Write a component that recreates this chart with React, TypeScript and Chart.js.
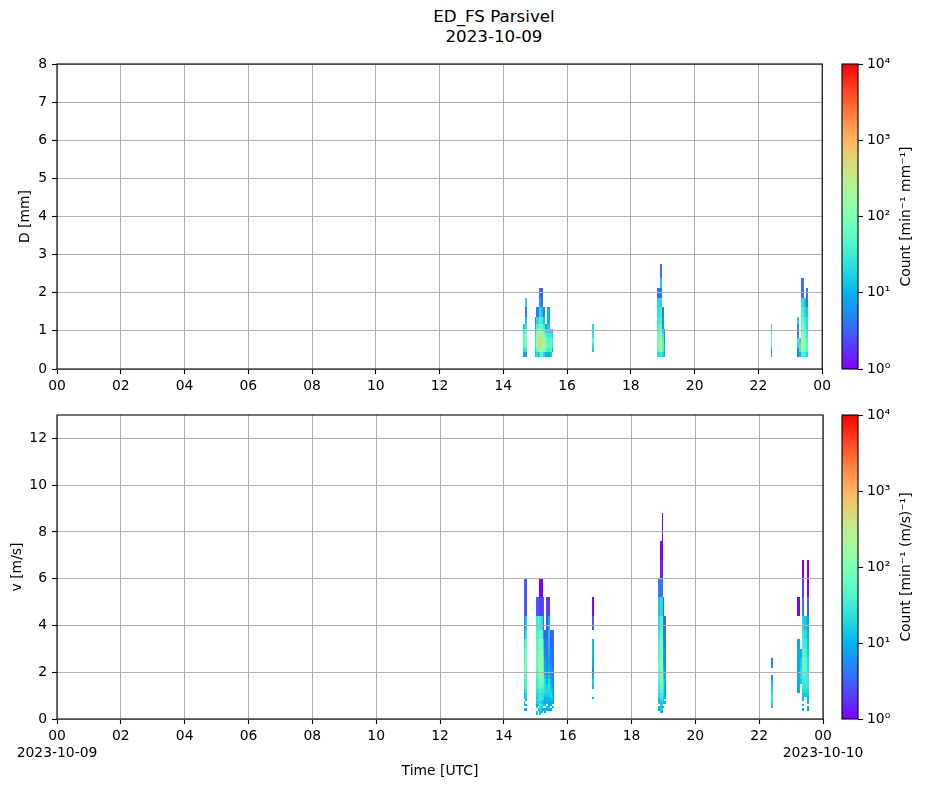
import React, { useEffect, useRef } from "react";
import { Chart, registerables } from "chart.js";

Chart.register(...registerables);

// ---------------- data ----------------
const TITLE_LINES = ["ED_FS Parsivel", "2023-10-09"];
const X_TICKS = [0, 2, 4, 6, 8, 10, 12, 14, 16, 18, 20, 22, 24];
const X_DATES = ["2023-10-09", "2023-10-10"];
const D_TICKS = [0, 1, 2, 3, 4, 5, 6, 7, 8];
const V_TICKS = [0, 2, 4, 6, 8, 10, 12];
const D_RANGE = [0, 8];
const V_RANGE = [0, 13];
const COUNT_TICKS = [1, 10, 100, 1000, 10000];
const COUNT_LABELS = ["10⁰", "10¹", "10²", "10³", "10⁴"];
const D_LABEL = "D [mm]";
const V_LABEL = "v [m/s]";
const TIME_LABEL = "Time [UTC]";
const D_CB_LABEL = "Count [min⁻¹ mm⁻¹]";
const V_CB_LABEL = "Count [min⁻¹ (m/s)⁻¹]";

// Parsivel class centres, used as cell edges
const D_EDGES = [0.062, 0.187, 0.312, 0.437, 0.562, 0.687, 0.812, 0.937, 1.062, 1.187,
  1.375, 1.625, 1.875, 2.125, 2.375, 2.75, 3.25, 3.75, 4.25, 4.75, 5.5, 6.5, 7.5];
const V_EDGES = [0.05, 0.15, 0.25, 0.35, 0.45, 0.55, 0.65, 0.75, 0.85, 0.95, 1.1, 1.3,
  1.5, 1.7, 1.9, 2.2, 2.6, 3.0, 3.4, 3.8, 4.4, 5.2, 6.0, 6.8, 7.6, 8.8, 10.4];

// [start minute, end minute, first class index, counts per class upward]
const D_COLUMNS: [number, number, number, number[]][] = [
  [877, 880, 2, [8, 20, 40, 60, 50, 30, 15]],
  [880, 884, 2, [8, 30, 70, 100, 90, 60, 30, 15, 4, 20]],
  [900, 902, 2, [15, 20, 30, 25, 20, 15, 10, 5]],
  [902, 906, 2, [20, 60, 120, 150, 120, 80, 40, 20, 4]],
  [906, 908, 2, [10, 50, 200, 300, 200, 100, 50, 20, 5]],
  [908, 911, 2, [30, 200, 500, 600, 400, 200, 80, 40, 20, 8, 4]],
  [911, 915, 2, [50, 150, 300, 400, 300, 150, 60, 30, 15, 4, 3]],
  [915, 919, 2, [20, 100, 200, 150, 100, 60, 30, 15, 4]],
  [919, 923, 2, [10, 60, 100, 80, 50, 25, 10]],
  [923, 927, 2, [8, 30, 50, 40, 30, 20, 15, 10, 10]],
  [927, 931, 2, [15, 40, 60, 50, 30, 20]],
  [931, 934, 3, [10, 30, 40, 20, 10]],
  [1006, 1010, 3, [15, 25, 60, 25, 20, 20]],
  [1130, 1134, 2, [20, 60, 100, 100, 80, 60, 40, 30, 25, 20, 4]],
  [1134, 1139, 2, [30, 200, 400, 300, 200, 100, 60, 40, 30, 20, 4, 15, 4]],
  [1139, 1142, 2, [15, 40, 50, 40, 30, 15, 6, 5, 4]],
  [1142, 1145, 2, [10, 12, 10, 8, 6, 5]],
  [1343, 1346, 2, [6, 10, 40, 60, 40, 30, 20]],
  [1392, 1397, 2, [5, 4, 20, 30, 5, 4, 5, 20]],
  [1397, 1401, 2, [10, 30, 40, 20]],
  [1401, 1405, 2, [40, 150, 300, 250, 150, 100, 80, 60, 40, 25, 4, 4]],
  [1405, 1409, 2, [30, 80, 120, 100, 80, 60, 40, 30, 20, 15]],
  [1409, 1413, 2, [20, 40, 50, 40, 30, 25, 20, 20, 15, 4, 4]],
];

const V_COLUMNS: [number, number, number, number[]][] = [
  [877, 880, 3, [10, 0, 8, 12, 0, 15, 10, 20, 25, 30, 40, 50, 40, 30, 20, 8, 4, 3, 3]],
  [880, 884, 2, [0, 10, 0, 12, 0, 10, 15, 20, 30, 40, 50, 70, 80, 100, 80, 50, 25, 15, 3, 3]],
  [900, 904, 1, [10, 15, 0, 12, 10, 15, 20, 15, 20, 25, 30, 30, 40, 50, 60, 60, 50, 40, 30, 3]],
  [904, 906, 2, [0, 10, 0, 15, 20, 25, 20, 20, 30, 40, 50, 60, 80, 90, 80, 60, 50, 40, 3]],
  [906, 910, 1, [15, 10, 20, 25, 30, 20, 30, 40, 30, 40, 60, 80, 100, 150, 180, 150, 100, 60, 30, 2, 1]],
  [910, 914, 1, [0, 15, 10, 20, 25, 15, 20, 30, 25, 30, 50, 70, 90, 120, 150, 120, 80, 50, 20, 2, 1]],
  [914, 916, 3, [10, 0, 15, 10, 15, 20, 25, 30, 40, 50, 60, 50, 40, 30, 20, 8, 4, 3]],
  [916, 919, 2, [8, 10, 0, 12, 10, 8, 10, 15, 20, 25, 20, 15, 10, 8, 5, 4, 3]],
  [919, 923, 3, [10, 12, 0, 10, 12, 10, 15, 20, 15, 10, 8, 6, 5, 4, 4, 3, 2.5, 2]],
  [923, 927, 2, [0, 10, 12, 10, 8, 10, 12, 15, 20, 25, 20, 15, 10, 8, 10, 12, 15, 10, 2]],
  [927, 931, 3, [8, 0, 10, 8, 12, 15, 20, 15, 12, 10, 8, 6, 5, 4, 3, 3]],
  [931, 934, 4, [10, 0, 8, 10, 12, 10, 8, 6, 5, 4, 4, 3, 3, 3, 3]],
  [1006, 1010, 8, [10, 0, 0, 12, 15, 10, 5, 10, 12, 12, 0, 3, 1]],
  [1130, 1134, 2, [0, 10, 12, 0, 15, 10, 15, 20, 25, 30, 40, 50, 60, 60, 50, 40, 30, 20, 15, 5]],
  [1134, 1139, 2, [10, 15, 10, 20, 15, 25, 30, 40, 50, 80, 100, 120, 150, 120, 100, 80, 60, 40, 20, 4, 1.5, 1]],
  [1137, 1139, 24, [1]],
  [1139, 1142, 4, [8, 0, 10, 12, 15, 20, 25, 30, 25, 20, 15, 10, 8, 5, 4, 4, 3]],
  [1142, 1145, 6, [10, 0, 12, 10, 8, 10, 12, 10, 8, 6, 5, 4, 4, 3]],
  [1343, 1346, 4, [12, 15, 20, 25, 30, 25, 20, 15, 12, 6, 0, 5]],
  [1392, 1396, 10, [8, 10, 10, 10, 8, 8, 10, 8, 0, 0, 1]],
  [1397, 1401, 12, [15, 20, 20, 15, 10]],
  [1401, 1405, 3, [10, 0, 12, 0, 10, 12, 15, 20, 25, 30, 40, 50, 60, 50, 40, 30, 20, 4, 2, 1]],
  [1405, 1409, 9, [15, 20, 25, 30, 40, 50, 50, 40, 30, 20, 15]],
  [1409, 1413, 3, [8, 10, 0, 12, 10, 8, 15, 20, 25, 30, 30, 25, 20, 15, 12, 10, 8, 3, 1, 1]],
];

// ---------------- helpers ----------------
const FONT_FAMILY = "'DejaVu Sans', 'Liberation Sans', sans-serif";
const FONT = { family: FONT_FAMILY, size: 13.9 };
const GRID_COLOR = "#b0b0b0";

function rainbow(t: number): string {
  t = Math.min(1, Math.max(0, t));
  const r = Math.min(1, Math.abs(2 * t - 0.5));
  const g = Math.max(0, Math.sin(Math.PI * t));
  const b = Math.max(0, Math.cos((Math.PI * t) / 2));
  return `rgb(${Math.round(r * 255)},${Math.round(g * 255)},${Math.round(b * 255)})`;
}
const lognorm = (c: number) => Math.log10(c) / Math.log10(COUNT_TICKS[COUNT_TICKS.length - 1]);

function heatPlugin(columns: [number, number, number, number[]][], edges: number[]) {
  return {
    id: "heat",
    beforeDraw(chart: any) {
      const xs = chart.scales.x;
      const ys = chart.scales.y;
      const ctx = chart.ctx;
      const a = chart.chartArea;
      ctx.save();
      ctx.beginPath();
      ctx.rect(a.left, a.top, a.right - a.left, a.bottom - a.top);
      ctx.clip();
      for (const [t0, t1, c0, counts] of columns) {
        const x0 = Math.round(xs.getPixelForValue(t0 / 60));
        const x1 = Math.round(xs.getPixelForValue(t1 / 60));
        counts.forEach((c, k) => {
          if (!c) return;
          const i = c0 + k;
          const y0 = Math.round(ys.getPixelForValue(edges[i]));
          const y1 = Math.round(ys.getPixelForValue(edges[i + 1]));
          ctx.fillStyle = rainbow(lognorm(c));
          ctx.fillRect(x0, y1, Math.max(1, x1 - x0), Math.max(1, y0 - y1));
        });
      }
      ctx.restore();
    },
  };
}

const framePlugin = {
  id: "frame",
  afterDraw(chart: any) {
    const a = chart.chartArea;
    const ctx = chart.ctx;
    ctx.save();
    ctx.strokeStyle = "#000";
    ctx.lineWidth = 1.1;
    ctx.strokeRect(a.left, a.top, a.right - a.left, a.bottom - a.top);
    ctx.restore();
  },
};

function colorbarPlugin(label: string, labelX: number) {
  return {
    id: "colorbar",
    beforeDraw(chart: any) {
      const ys = chart.scales.y;
      const a = chart.chartArea;
      const ctx = chart.ctx;
      ctx.save();
      for (let y = Math.floor(a.top); y < Math.ceil(a.bottom); y++) {
        const v = ys.getValueForPixel(y + 0.5);
        ctx.fillStyle = rainbow(lognorm(v));
        ctx.fillRect(a.left, y, a.right - a.left, 1);
      }
      ctx.restore();
    },
    afterDraw(chart: any) {
      const a = chart.chartArea;
      const ctx = chart.ctx;
      ctx.save();
      ctx.strokeStyle = "#000";
      ctx.lineWidth = 1.1;
      ctx.strokeRect(a.left, a.top, a.right - a.left, a.bottom - a.top);
      ctx.translate(labelX, (a.top + a.bottom) / 2);
      ctx.rotate(-Math.PI / 2);
      ctx.fillStyle = "#000";
      ctx.font = `${FONT.size}px ${FONT_FAMILY}`;
      ctx.textAlign = "center";
      ctx.textBaseline = "middle";
      ctx.fillText(label, 0, 0);
      ctx.restore();
    },
  };
}

const pad2 = (v: number) => String(v % 24).padStart(2, "0");

function heatConfig(opts: {
  columns: [number, number, number, number[]][];
  edges: number[];
  yRange: number[];
  yTicks: number[];
  yLabel: string;
  yTitlePad: number;
  padding: any;
  xHeight: number;
  withDates: boolean;
}) {
  return {
    type: "scatter",
    data: { datasets: [] },
    options: {
      responsive: false,
      animation: false,
      events: [],
      layout: { padding: opts.padding },
      plugins: { legend: { display: false }, tooltip: { enabled: false } },
      scales: {
        x: {
          type: "linear",
          min: 0,
          max: 24,
          afterBuildTicks: (s: any) => {
            s.ticks = X_TICKS.map((v) => ({ value: v }));
          },
          afterFit: (s: any) => {
            s.height = opts.xHeight;
          },
          ticks: {
            autoSkip: false,
            maxRotation: 0,
            minRotation: 0,
            padding: 4,
            color: "#000",
            font: FONT,
            callback: (v: number) => {
              if (opts.withDates && v === X_TICKS[0]) return [pad2(v), X_DATES[0]];
              if (opts.withDates && v === X_TICKS[X_TICKS.length - 1]) return [pad2(v), X_DATES[1]];
              return pad2(v);
            },
          },
          grid: { color: GRID_COLOR, lineWidth: 1, tickColor: "#000", tickLength: 5, tickWidth: 1.1 },
          border: { display: false },
          title: opts.withDates
            ? { display: true, text: TIME_LABEL, color: "#000", font: FONT, padding: { top: 0, bottom: 8.7 } }
            : { display: false },
        },
        y: {
          type: "linear",
          min: opts.yRange[0],
          max: opts.yRange[1],
          afterBuildTicks: (s: any) => {
            s.ticks = opts.yTicks.map((v) => ({ value: v }));
          },
          afterFit: (s: any) => {
            s.width = 57;
          },
          ticks: { padding: 5, color: "#000", font: FONT, autoSkip: false },
          grid: { color: GRID_COLOR, lineWidth: 1, tickColor: "#000", tickLength: 5, tickWidth: 1.1 },
          border: { display: false },
          title: { display: true, text: opts.yLabel, color: "#000", font: FONT, padding: { top: opts.yTitlePad, bottom: 0 } },
        },
      },
    },
    plugins: [heatPlugin(opts.columns, opts.edges), framePlugin],
  };
}

function colorbarConfig(label: string, padTop: number, padBottom: number) {
  return {
    type: "scatter",
    data: { datasets: [] },
    options: {
      responsive: false,
      animation: false,
      events: [],
      layout: { padding: { left: 7, right: 0, top: padTop, bottom: padBottom } },
      plugins: { legend: { display: false }, tooltip: { enabled: false } },
      scales: {
        x: { display: false, min: 0, max: 1 },
        y: {
          type: "logarithmic",
          position: "right",
          min: COUNT_TICKS[0],
          max: COUNT_TICKS[COUNT_TICKS.length - 1],
          afterBuildTicks: (s: any) => {
            s.ticks = COUNT_TICKS.map((v) => ({ value: v }));
          },
          afterFit: (s: any) => {
            s.width = 69;
          },
          ticks: {
            autoSkip: false,
            padding: 4,
            color: "#000",
            font: FONT,
            callback: (v: number) => COUNT_LABELS[COUNT_TICKS.indexOf(v)] ?? "",
          },
          grid: { drawOnChartArea: false, drawTicks: true, tickLength: 5, tickColor: "#000", tickWidth: 1.1 },
          border: { display: false },
        },
      },
    },
    plugins: [colorbarPlugin(label, 71)],
  };
}

function ChartCanvas(props: { make: () => any; left: number; top: number; width: number; height: number }) {
  const ref = useRef<HTMLCanvasElement>(null);
  useEffect(() => {
    const chart = new Chart(ref.current as HTMLCanvasElement, props.make());
    return () => chart.destroy();
  }, []);
  return (
    <canvas
      ref={ref}
      width={props.width}
      height={props.height}
      style={{ position: "absolute", left: props.left, top: props.top, width: props.width, height: props.height }}
    />
  );
}

export default function App() {
  return (
    <div style={{ position: "absolute", left: 0, top: 0, width: 927, height: 788, background: "#fff", overflow: "hidden" }}>
      <div
        style={{
          position: "absolute",
          left: 494 - 200,
          width: 400,
          top: 7,
          textAlign: "center",
          fontFamily: FONT_FAMILY,
          fontSize: 16.7,
          lineHeight: "19.5px",
          color: "#000",
        }}
      >
        {TITLE_LINES.map((t) => (
          <div key={t}>{t}</div>
        ))}
      </div>
      <ChartCanvas
        left={0}
        top={50}
        width={835}
        height={350}
        make={() =>
          heatConfig({
            columns: D_COLUMNS,
            edges: D_EDGES,
            yRange: D_RANGE,
            yTicks: D_TICKS,
            yLabel: D_LABEL,
            yTitlePad: 16.7,
            padding: { left: 0, right: 12, top: 14, bottom: 0 },
            xHeight: 31,
            withDates: false,
          })
        }
      />
      <ChartCanvas
        left={0}
        top={400}
        width={927}
        height={388}
        make={() =>
          heatConfig({
            columns: V_COLUMNS,
            edges: V_EDGES,
            yRange: V_RANGE,
            yTicks: V_TICKS,
            yLabel: V_LABEL,
            yTitlePad: 8.7,
            padding: { left: 0, right: 104, top: 15, bottom: 0 },
            xHeight: 69,
            withDates: true,
          })
        }
      />
      <ChartCanvas left={835} top={50} width={92} height={350} make={() => colorbarConfig(D_CB_LABEL, 14, 31)} />
      <ChartCanvas left={835} top={400} width={92} height={388} make={() => colorbarConfig(V_CB_LABEL, 15, 69)} />
    </div>
  );
}
